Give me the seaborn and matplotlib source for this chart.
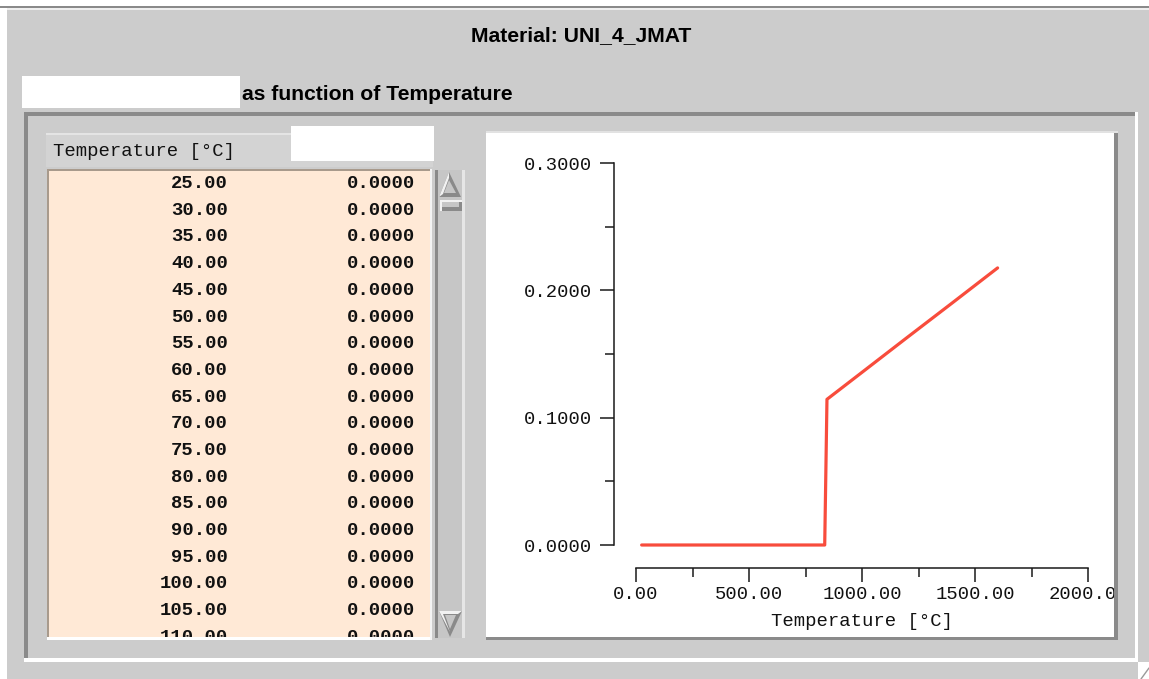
import matplotlib
matplotlib.use("Agg")
import matplotlib.pyplot as plt
from matplotlib.patches import Rectangle, Polygon
from matplotlib.ticker import FixedLocator, FixedFormatter
from matplotlib.transforms import Bbox, TransformedBbox
import pandas as pd
import seaborn as sns

# ---- data -----------------------------------------------------------------
material = "UNI_4_JMAT"
table_temps = [25, 30, 35, 40, 45, 50, 55, 60, 65, 70, 75, 80, 85, 90, 95,
               100, 105, 110]
table_values = [0.0] * len(table_temps)

curve_temps = [25, 835, 840, 845, 1000, 1200, 1400, 1600]
curve_values = [0.0, 0.0, 0.0568, 0.1144, 0.1356, 0.1630, 0.1902, 0.2176]

x_major = [0, 500, 1000, 1500, 2000]
x_minor = [250, 750, 1250, 1750]
x_labels = ["0.00", "500.00", "1000.00", "1500.00", "2000.00"]
y_major = [0.0, 0.1, 0.2, 0.3]
y_minor = [0.05, 0.15, 0.25]
y_labels = ["0.0000", "0.1000", "0.2000", "0.3000"]

# ---- style ----------------------------------------------------------------
sns.set_style("ticks")
plt.rcParams["font.family"] = ["Liberation Sans", "DejaVu Sans"]

W, H = 1149, 679
GRAY = "#cccccc"
DARK = "#8a8a8a"
LIGHT = "#f2f2f2"
PEACH = "#ffe9d6"
LINE = "#f84c3c"
MONO = "Liberation Mono"

fig = plt.figure(figsize=(W / 100, H / 100), dpi=100)
fig.patch.set_facecolor("white")

# full-window canvas in pixel coordinates for the dialog chrome
bg = fig.add_axes([0, 0, 1, 1], zorder=0)
bg.set_xlim(0, W)
bg.set_ylim(H, 0)
bg.axis("off")


def rect(x0, y0, x1, y1, color, z=1):
    p = Rectangle((x0, y0), x1 - x0, y1 - y0, facecolor=color,
                  edgecolor="none", zorder=z)
    bg.add_patch(p)
    return p


def tri(pts, face, z=3):
    bg.add_patch(Polygon(pts, closed=True, facecolor=face, edgecolor="none",
                         zorder=z))


def pixel_box(x0, y0, x1, y1):
    """Clip box given in window pixels (origin top-left)."""
    return TransformedBbox(
        Bbox.from_extents(x0 / W, 1 - y1 / H, x1 / W, 1 - y0 / H),
        fig.transFigure)


# window background and frame lines
rect(7, 10, W, H, GRAY)
rect(0, 6, W, 8, DARK)
rect(7, 8, W, 10, "#efefef")
rect(1138, 662, W, H, "white")
bg.plot([1141, 1149], [679, 668], color="#9a9a9a", lw=1, zorder=2)

# headings
bg.text(581, 36, f"Material: {material}", ha="center", va="center",
        fontsize=15.2, fontweight="bold", color="black", zorder=4)
rect(22, 76, 240, 108, "white", z=2)
bg.text(242, 94, "as function of Temperature", ha="left", va="center",
        fontsize=15.2, fontweight="bold", color="black", zorder=4)

# sunken group frame
rect(24, 112, 1138, 116, DARK, z=2)
rect(24, 112, 28, 662, DARK, z=2)
rect(24, 658, 1138, 662, "white", z=2)
rect(1135, 112, 1138, 662, "white", z=2)

# table header
rect(46, 133, 433, 167, "#d3d3d3", z=2)
rect(46, 133, 433, 135, "#e4e4e4", z=2)
bg.text(53, 151, "Temperature [°C]", ha="left", va="center", family=MONO,
        fontsize=13.6, color="#111111", zorder=4)
rect(291, 126, 434, 161, "white", z=3)

# table body
rect(47, 169, 432, 640, "#a89a8c", z=2)
rect(47, 637, 432, 640, "white", z=2)
rect(430, 169, 432, 640, "#f4f4f4", z=2)
rect(49, 171, 430, 637, PEACH, z=2)
body_box = pixel_box(49, 171, 430, 637)
row0, row_h = 183.5, 26.7
for i, (t, v) in enumerate(zip(table_temps, table_values)):
    y = row0 + i * row_h
    for x, s in ((228, f"{t:.2f}"), (415, f"{v:.4f}")):
        txt = bg.text(x, y, s, ha="right", va="center", family=MONO,
                      fontweight="bold", fontsize=13.6, color="#111111",
                      zorder=4, clip_on=True)
        txt.set_clip_box(body_box)

# scrollbar
TROUGH = "#c6c6c6"
rect(435, 170, 465, 638, TROUGH, z=2)
rect(435, 170, 438, 638, DARK, z=2)
rect(462, 170, 465, 638, "#e6e6e6", z=2)
# up arrow
tri([(449, 172), (439, 197), (461, 197)], DARK)
tri([(449, 172), (439, 197), (443, 194), (449, 178)], LIGHT, z=4)
tri([(449, 180), (444, 193), (456, 193)], TROUGH, z=4)
# thumb
rect(440, 200, 462, 211, LIGHT, z=3)
rect(442, 202, 462, 211, DARK, z=3)
rect(442, 202, 459, 207, TROUGH, z=4)
# down arrow
tri([(439, 611), (462, 611), (450, 637)], DARK)
tri([(439, 611), (462, 611), (458, 614), (443, 614), (450, 632)], LIGHT,
    z=4)
tri([(445, 615), (456, 615), (450, 629)], TROUGH, z=5)

# plot panel
rect(486, 131, 1118, 133, "#e2e2e2", z=2)
rect(486, 133, 1114, 637, "white", z=2)
rect(1114, 133, 1118, 640, DARK, z=2)
rect(486, 637, 1118, 640, DARK, z=2)

# ---- chart ----------------------------------------------------------------
ax = fig.add_axes([636 / W, 1 - 545 / H, (1088 - 636) / W, (545 - 163) / H],
                  zorder=2)
ax.patch.set_alpha(0)

df = pd.DataFrame({"Temperature": curve_temps, "Value": curve_values})
sns.lineplot(data=df, x="Temperature", y="Value", ax=ax, color=LINE,
             linewidth=2.3, clip_on=False)

ax.set_xlim(0, 2000)
ax.set_ylim(0, 0.3)
sns.despine(ax=ax)
for side, off in (("left", 15.8), ("bottom", 16.6)):
    ax.spines[side].set_position(("outward", off))
    ax.spines[side].set_linewidth(1.1)
    ax.spines[side].set_color("#1a1a1a")

ax.xaxis.set_major_locator(FixedLocator(x_major))
ax.xaxis.set_major_formatter(FixedFormatter(x_labels))
ax.xaxis.set_minor_locator(FixedLocator(x_minor))
ax.yaxis.set_major_locator(FixedLocator(y_major))
ax.yaxis.set_major_formatter(FixedFormatter(y_labels))
ax.yaxis.set_minor_locator(FixedLocator(y_minor))

ax.tick_params(axis="both", which="both", direction="out", color="#1a1a1a",
               width=1.1, labelcolor="#111111")
ax.tick_params(axis="y", which="major", length=10, pad=5.5)
ax.tick_params(axis="y", which="minor", length=6.5)
ax.tick_params(axis="x", which="major", length=9.8, pad=3)
ax.tick_params(axis="x", which="minor", length=6.3)
for lbl in ax.get_xticklabels() + ax.get_yticklabels():
    lbl.set_family(MONO)
    lbl.set_fontsize(13.6)

ax.set_ylabel("")
ax.set_xlabel("Temperature [°C]", family=MONO, fontsize=13.6,
              color="#111111", labelpad=7.5)

# tick labels stay inside the white panel
fig.canvas.draw()
panel_box = pixel_box(486, 133, 1114, 637)
for lbl in ax.get_xticklabels():
    lbl.set_clip_on(True)
    lbl.set_clip_box(panel_box)

fig.savefig("out.png", dpi=100, facecolor="white")
